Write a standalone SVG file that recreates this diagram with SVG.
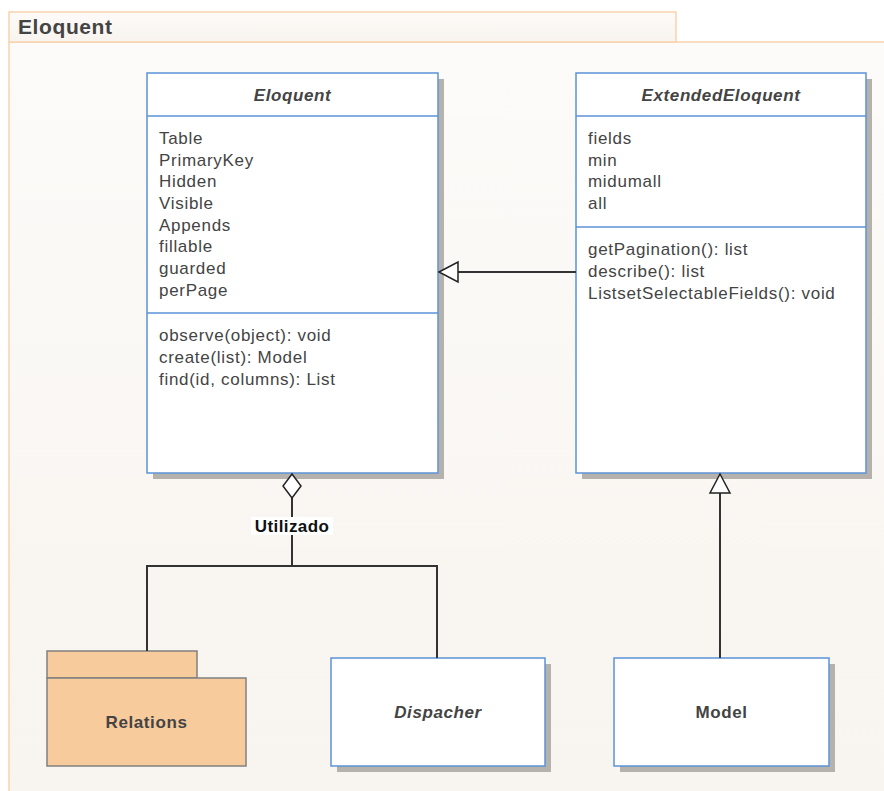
<svg xmlns="http://www.w3.org/2000/svg" width="884" height="791" viewBox="0 0 884 791">
  <defs>
    <linearGradient id="frameBg" x1="0" y1="0" x2="0" y2="1">
      <stop offset="0" stop-color="#fcfbf9"/>
      <stop offset="1" stop-color="#f8f4ef"/>
    </linearGradient>
    <linearGradient id="tabBg" x1="0" y1="0" x2="0" y2="1">
      <stop offset="0" stop-color="#fdfbf9"/>
      <stop offset="1" stop-color="#f8f3ee"/>
    </linearGradient>
  </defs>
  <style>
    .frame { fill: url(#frameBg); stroke: #f9d3ad; stroke-width: 1.5; }
    .tab { fill: url(#tabBg); stroke: #f9d3ad; stroke-width: 1.5; }
    .shadow { fill: #b5b2ae; }
    .cls { fill: #ffffff; stroke: #5b93d8; stroke-width: 1.5; }
    .sep { stroke: #5b93d8; stroke-width: 1.5; }
    .pkg { fill: #f8cb9c; stroke: #808080; stroke-width: 1.5; }
    .txt { font-family: "Liberation Sans", Arial, sans-serif; fill: #444444; font-size: 17px; letter-spacing: 0.7px; }
    .name { font-family: "Liberation Sans", Arial, sans-serif; fill: #444444; font-size: 17px; font-weight: bold; text-anchor: middle; letter-spacing: 0.6px; }
    .ital { font-style: italic; }
    .line { fill: none; stroke: #333333; stroke-width: 2; }
    .head { fill: #ffffff; stroke: #222222; stroke-width: 1.5; }
  </style>

  <!-- package frame -->
  <g id="frame">
    <rect class="frame" x="9" y="42" width="885" height="760"/>
    <rect class="tab" x="9" y="12" width="667" height="30"/>
    <text x="18" y="34" font-family="Liberation Sans, Arial, sans-serif" font-size="21" font-weight="bold" letter-spacing="0.6" fill="#444444">Eloquent</text>
  </g>

  <!-- Eloquent class -->
  <g id="node-eloquent">
    <rect class="shadow" x="153" y="79" width="291" height="400"/>
    <rect class="cls" x="147" y="73" width="291" height="400"/>
    <line class="sep" x1="147" y1="116" x2="438" y2="116"/>
    <line class="sep" x1="147" y1="313" x2="438" y2="313"/>
    <text class="name ital" x="292.5" y="101">Eloquent</text>
    <text class="txt" x="159" y="144">Table</text>
    <text class="txt" x="159" y="166">PrimaryKey</text>
    <text class="txt" x="159" y="187">Hidden</text>
    <text class="txt" x="159" y="209">Visible</text>
    <text class="txt" x="159" y="231">Appends</text>
    <text class="txt" x="159" y="252">fillable</text>
    <text class="txt" x="159" y="274">guarded</text>
    <text class="txt" x="159" y="296">perPage</text>
    <text class="txt" x="159" y="341">observe(object): void</text>
    <text class="txt" x="159" y="363">create(list): Model</text>
    <text class="txt" x="159" y="385">find(id, columns): List</text>
  </g>

  <!-- ExtendedEloquent class -->
  <g id="node-extended">
    <rect class="shadow" x="582" y="79" width="290" height="400"/>
    <rect class="cls" x="576" y="73" width="290" height="400"/>
    <line class="sep" x1="576" y1="116" x2="866" y2="116"/>
    <line class="sep" x1="576" y1="227" x2="866" y2="227"/>
    <text class="name ital" x="721" y="101">ExtendedEloquent</text>
    <text class="txt" x="588" y="144">fields</text>
    <text class="txt" x="588" y="166">min</text>
    <text class="txt" x="588" y="187">midumall</text>
    <text class="txt" x="588" y="209">all</text>
    <text class="txt" x="588" y="255">getPagination(): list</text>
    <text class="txt" x="588" y="277">describe(): list</text>
    <text class="txt" x="588" y="299">ListsetSelectableFields(): void</text>
  </g>

  <!-- Relations package -->
  <g id="node-relations">
    <rect class="pkg" x="47" y="651" width="150" height="27"/>
    <rect class="pkg" x="47" y="678" width="199" height="88"/>
    <text class="name" x="146.5" y="728">Relations</text>
  </g>

  <!-- Dispacher class -->
  <g id="node-dispacher">
    <rect class="shadow" x="337" y="664" width="214" height="108"/>
    <rect class="cls" x="331" y="658" width="214" height="108"/>
    <text class="name ital" x="438" y="718">Dispacher</text>
  </g>

  <!-- Model class -->
  <g id="node-model">
    <rect class="shadow" x="620" y="664" width="215" height="108"/>
    <rect class="cls" x="614" y="658" width="215" height="108"/>
    <text class="name" x="721.5" y="718">Model</text>
  </g>

  <!-- connectors -->
  <g id="connectors">
    <!-- ExtendedEloquent generalizes Eloquent -->
    <line class="line" x1="576" y1="272" x2="458" y2="272"/>
    <polygon class="head" points="439,272 458,262 458,282"/>
    <!-- Model generalizes ExtendedEloquent -->
    <line class="line" x1="720" y1="658" x2="720" y2="493"/>
    <polygon class="head" points="720,474 710,493 730,493"/>
    <!-- aggregation "Utilizado" -->
    <polyline class="line" points="292,498 292,566"/>
    <polyline class="line" points="147,651 147,566 437,566 437,658"/>
    <polygon class="head" points="292,474 301,486 292,498 283,486"/>
    <rect x="251" y="517" width="82" height="18" fill="#ffffff"/>
    <text x="292" y="532" text-anchor="middle" font-family="Liberation Sans, Arial, sans-serif" font-size="17" font-weight="bold" letter-spacing="0.4" fill="#111111">Utilizado</text>
  </g>
</svg>
